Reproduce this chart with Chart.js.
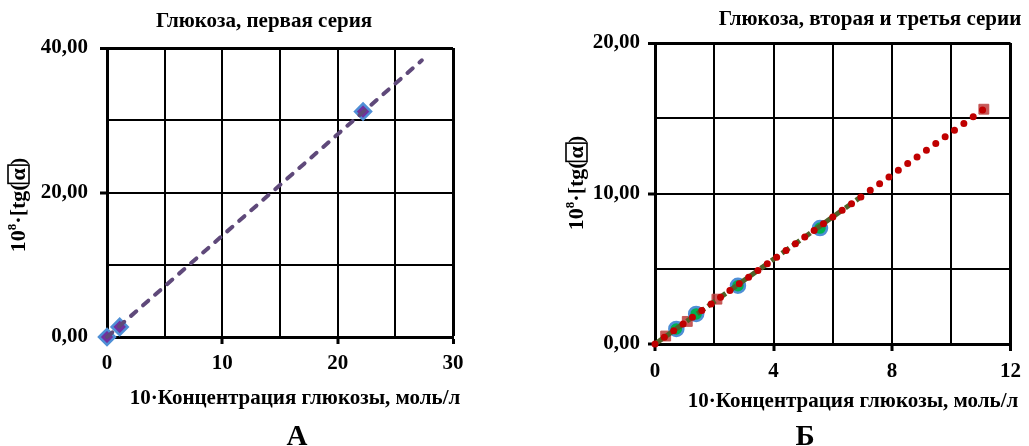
<!DOCTYPE html>
<html lang="ru">
<head>
<meta charset="utf-8">
<script src="https://cdn.jsdelivr.net/npm/chart.js@4.4.0/dist/chart.umd.min.js"></script>
<style>
  body { margin: 0; background: #fff; }
  #wrap { position: relative; width: 1029px; height: 446px; }
  .box { position: absolute; top: 0; height: 446px; }
  #boxA { left: 0; width: 515px; }
  #boxB { left: 515px; width: 514px; }
</style>
</head>
<body>
<div id="wrap">
  <div class="box" id="boxA"><canvas id="grafico1"></canvas></div>
  <div class="box" id="boxB"><canvas id="grafico2"></canvas></div>
</div>
<script>
// --- данные, график А (первая серия)
const serie1X = [0, 1.1, 22.2];
const serie1Y = [0, 1.4, 31.2];
const trend1X = [0, 27.3];
const trend1Y = [0, 38.3];

// --- данные, график Б (вторая и третья серии)
const serie2X = [0.72, 1.39, 2.8, 5.57];
const serie2Y = [1.0, 2.0, 3.87, 7.7];
const serie3X = [0.36, 1.09, 2.09, 11.1];
const serie3Y = [0.53, 1.5, 2.98, 15.6];
const trend2X = [0, 7.0];
const trend2Y = [0, 9.85];
const trend3X = [0, 11.1];
const trend3Y = [0, 15.6];

// подписанные деления
const ticksA_X = [0, 10, 20, 30];
const ticksA_Y = [0, 20, 40];
const ticksB_X = [0, 4, 8, 12];
const ticksB_Y = [0, 10, 20];

const titleA = "Глюкоза, первая серия";
const titleB = "Глюкоза, вторая и третья серии";
const xTitle = "10·Концентрация глюкозы, моль/л";

const FONT = '"Liberation Serif", "Times New Roman", serif';

function pts(xs, ys) {
  return xs.map((x, i) => ({ x: x, y: ys[i] }));
}

function makeScale(axis, max, step, labeled, size, pad) {
  return {
    type: "linear",
    position: axis === "y" ? "left" : "bottom",
    min: 0,
    max: max,
    ticks: {
      stepSize: step,
      autoSkip: false,
      maxRotation: 0,
      padding: pad,
      color: "#000",
      font: { family: FONT, size: 21, weight: "bold" },
      callback: (v) => {
        if (!labeled.includes(v)) return "";
        return axis === "y" ? v.toFixed(2).replace(".", ",") : String(v);
      },
    },
    grid: {
      color: "#000",
      lineWidth: (c) => (c.tick && c.tick.value === max ? 3 : 2),
      tickLength: 7,
      tickWidth: 3,
      tickColor: (c) => (c.tick && labeled.includes(c.tick.value) ? "#000" : "rgba(0,0,0,0)"),
    },
    border: { color: "#000", width: 3 },
    afterFit: (s) => {
      if (axis === "y") s.width = size;
      else s.height = size;
    },
  };
}

// подпись оси Y: 10^8·[tg(α)] с рамкой вокруг α
function drawYTitle(c, cx, cy) {
  const big = "bold 22px " + FONT;
  const small = "bold 13px " + FONT;
  c.save();
  c.translate(cx, cy);
  c.rotate(-Math.PI / 2);
  c.textAlign = "left";
  c.textBaseline = "alphabetic";
  c.font = big;
  const w1 = c.measureText("10").width;
  const w3 = c.measureText("·[tg(").width;
  const wa = c.measureText("α").width;
  const w4 = c.measureText(")").width;
  c.font = small;
  const w2 = c.measureText("8").width;
  const pad = 3;
  const total = w1 + w2 + w3 + wa + 2 * pad + w4;
  let x = -total / 2;
  const base = 7;
  c.font = big;
  c.fillText("10", x, base);
  x += w1;
  c.font = small;
  c.fillText("8", x, base - 9);
  x += w2;
  c.font = big;
  c.fillText("·[tg(", x, base);
  x += w3;
  c.lineWidth = 1.6;
  c.strokeStyle = "#000";
  c.strokeRect(x, base - 17, wa + 2 * pad, 21);
  c.fillText("α", x + pad, base);
  x += wa + 2 * pad;
  c.fillText(")", x, base);
  c.restore();
}

const textPlugin = {
  id: "texts",
  afterDraw(chart, args, o) {
    const c = chart.ctx;
    c.save();
    c.fillStyle = "#000";
    c.textAlign = "center";
    c.textBaseline = "middle";
    c.font = "bold 21px " + FONT;
    c.fillText(o.title, o.titleX, o.titleY);
    c.fillText(xTitle, o.xTitleX, o.xTitleY);
    c.font = "bold 29px " + FONT;
    c.textBaseline = "alphabetic";
    c.fillText(o.letter, o.letterX, o.letterY);
    drawYTitle(c, o.yTitleX, o.yTitleY);
    c.restore();
  },
};

new Chart(document.getElementById("grafico1"), {
  type: "scatter",
  data: {
    datasets: [
      {
        type: "line",
        data: pts(trend1X, trend1Y),
        borderColor: "#5f497a",
        borderWidth: 4,
        borderDash: [7, 9],
        borderCapStyle: "round",
        pointRadius: 0,
        fill: false,
        order: 1,
        clip: false,
      },
      {
        data: pts(serie1X, serie1Y),
        pointStyle: "rectRot",
        pointRadius: 8,
        backgroundColor: "#7030a0",
        borderColor: "#4f8fd6",
        borderWidth: 2.5,
        order: 2,
        clip: false,
      },
    ],
  },
  options: {
    responsive: true,
    maintainAspectRatio: false,
    animation: false,
    layout: { padding: { left: 0, top: 48, right: 62, bottom: 0 } },
    scales: {
      x: makeScale("x", 30, 5, ticksA_X, 109, 7),
      y: makeScale("y", 40, 10, ticksA_Y, 107, 12),
    },
    plugins: {
      legend: { display: false },
      tooltip: { enabled: false },
      texts: {
        title: titleA, titleX: 264, titleY: 22,
        xTitleX: 295, xTitleY: 399,
        letter: "А", letterX: 297, letterY: 445,
        yTitleX: 18, yTitleY: 205,
      },
    },
  },
  plugins: [textPlugin],
});

new Chart(document.getElementById("grafico2"), {
  type: "scatter",
  data: {
    datasets: [
      {
        type: "line",
        data: pts(trend3X, trend3Y),
        borderColor: "#c00000",
        borderWidth: 7,
        borderDash: [0, 11.5],
        borderCapStyle: "round",
        pointRadius: 0,
        fill: false,
        order: 1,
        clip: false,
      },
      {
        type: "line",
        data: pts(trend2X, trend2Y),
        borderColor: "#4f6228",
        borderWidth: 5,
        borderDash: [9, 4],
        pointRadius: 0,
        fill: false,
        order: 2,
        clip: false,
      },
      {
        data: pts(serie2X, serie2Y),
        pointStyle: "circle",
        pointRadius: 7,
        backgroundColor: "#00b050",
        borderColor: "#4f8fd6",
        borderWidth: 2.5,
        order: 3,
        clip: false,
      },
      {
        data: pts(serie3X, serie3Y),
        pointStyle: "rect",
        pointRadius: 7,
        backgroundColor: "rgba(192,60,60,0.85)",
        borderColor: "rgba(192,80,77,0.9)",
        borderWidth: 1,
        order: 4,
        clip: false,
      },
    ],
  },
  options: {
    responsive: true,
    maintainAspectRatio: false,
    animation: false,
    layout: { padding: { left: 0, top: 43, right: 12, bottom: 0 } },
    scales: {
      x: makeScale("x", 12, 2, ticksB_X, 102, 8),
      y: makeScale("y", 20, 5, ticksB_Y, 140, 8),
    },
    plugins: {
      legend: { display: false },
      tooltip: { enabled: false },
      texts: {
        title: titleB, titleX: 355, titleY: 20,
        xTitleX: 338, xTitleY: 402,
        letter: "Б", letterX: 290, letterY: 445,
        yTitleX: 61, yTitleY: 183,
      },
    },
  },
  plugins: [textPlugin],
});
</script>
</body>
</html>
